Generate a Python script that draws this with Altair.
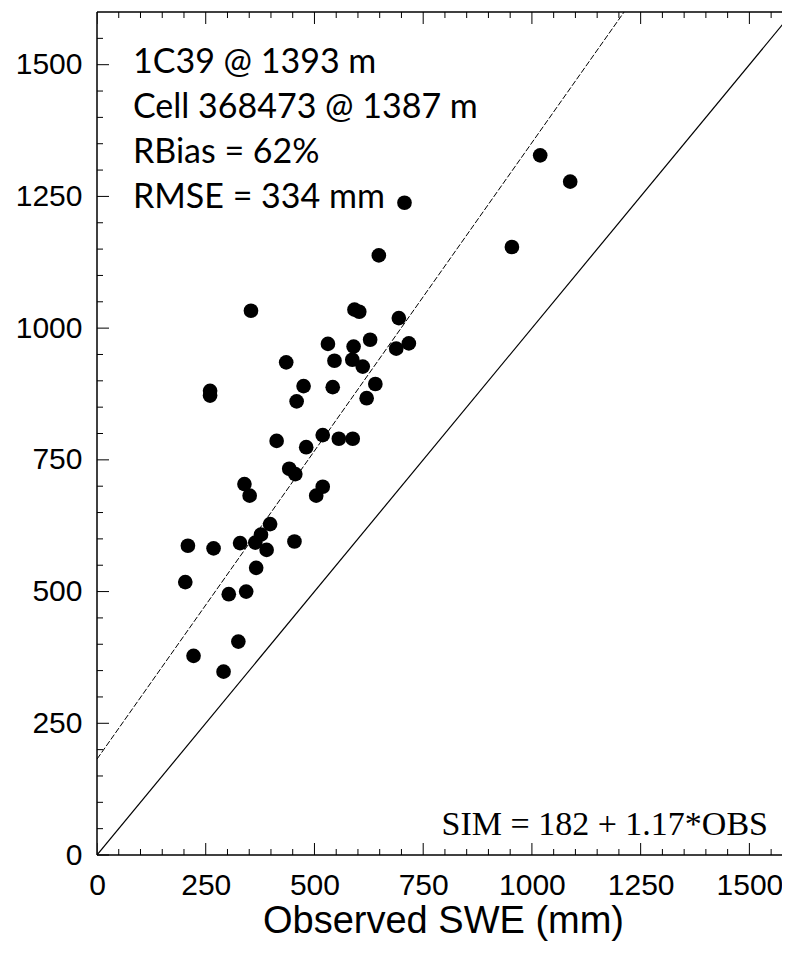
import altair as alt
import pandas as pd

# Observed vs simulated SWE (mm)
obs = [354, 592, 603, 694, 531, 628, 590, 717, 688, 435, 546, 587, 611, 260, 260,
       475, 542, 640, 459, 620, 413, 481, 519, 556, 588, 442, 456, 339, 351, 519,
       504, 398, 377, 329, 364, 390, 209, 268, 454, 366, 203, 303, 343, 325, 222,
       291, 1019, 1088, 954, 707, 648]
sim = [1033, 1035, 1031, 1019, 970, 978, 965, 971, 961, 935, 938, 940, 927, 881, 872,
       890, 888, 894, 861, 867, 786, 774, 797, 790, 790, 733, 723, 704, 682, 699,
       682, 628, 608, 592, 593, 579, 587, 582, 595, 545, 518, 495, 500, 405, 378,
       348, 1328, 1278, 1154, 1238, 1138]

# reference lines
one_to_one_x = [0, 1600]
one_to_one_y = [0, 1600]
intercept = 182
slope = 1.17
fit_x = [0, (1600 - intercept) / slope]

major_ticks = [0, 250, 500, 750, 1000, 1250, 1500]
minor_ticks = [v for v in range(50, 1600, 50) if v % 250 != 0]

info_lines = ["1C39 @ 1393 m", "Cell 368473 @ 1387 m", "RBias = 62%", "RMSE = 334 mm"]
eq_text = "SIM = 182 + 1.17*OBS"
x_title = "Observed SWE (mm)"

# visible part of the plot; the frame's right edge (x = 1600) lies outside the picture
W, H = 685, 843
XDOM = [0, 1575]
YDOM = [0, 1600]

pts = pd.DataFrame({"obs": obs, "sim": sim})
ref1 = pd.DataFrame({"obs": one_to_one_x, "sim": one_to_one_y})
fit = pd.DataFrame({"obs": fit_x, "sim": [intercept + slope * v for v in fit_x]})
maj = pd.DataFrame({"v": major_ticks})
mnr = pd.DataFrame({"v": minor_ticks})

xs = alt.Scale(domain=XDOM, nice=False, zero=False)
ys = alt.Scale(domain=YDOM, nice=False, zero=False)

points = alt.Chart(pts).mark_circle(size=215, color="black", opacity=1).encode(
    x=alt.X("obs:Q", scale=xs, title=x_title,
            axis=alt.Axis(values=major_ticks, format="d", labelPadding=15, labelFlush=False,
                          titleBaseline="alphabetic", titleY=77, titleX=346)),
    y=alt.Y("sim:Q", scale=ys, title=None,
            axis=alt.Axis(values=major_ticks, format="d", labelPadding=15, labelFlush=False)),
)

line1 = alt.Chart(ref1).mark_line(color="black", strokeWidth=1.2, clip=True).encode(
    x=alt.X("obs:Q", scale=xs), y=alt.Y("sim:Q", scale=ys))
line2 = alt.Chart(fit).mark_line(color="black", strokeWidth=1, strokeDash=[6, 2], clip=True).encode(
    x=alt.X("obs:Q", scale=xs), y=alt.Y("sim:Q", scale=ys))

# frame: left, top, bottom (the right side falls outside the picture)
frame_left = alt.Chart(pd.DataFrame({"k": [0]})).mark_rule(color="black", strokeWidth=1.5).encode(
    x=alt.value(0), y=alt.value(0), y2=alt.value(H))
frame_top = alt.Chart(pd.DataFrame({"k": [0]})).mark_rule(color="black", strokeWidth=1.5).encode(
    x=alt.value(0), x2=alt.value(W), y=alt.value(0))
frame_bottom = alt.Chart(pd.DataFrame({"k": [0]})).mark_rule(color="black", strokeWidth=1.5).encode(
    x=alt.value(0), x2=alt.value(W), y=alt.value(H))


def xticks(df, length):
    bottom = alt.Chart(df).mark_rule(color="black", strokeWidth=1, clip=True).encode(
        x=alt.X("v:Q", scale=xs), y=alt.value(H), y2=alt.value(H - length))
    top = alt.Chart(df).mark_rule(color="black", strokeWidth=1, clip=True).encode(
        x=alt.X("v:Q", scale=xs), y=alt.value(0), y2=alt.value(length))
    return [bottom, top]


def yticks(df, length):
    left = alt.Chart(df).mark_rule(color="black", strokeWidth=1).encode(
        y=alt.Y("v:Q", scale=ys), x=alt.value(0), x2=alt.value(length))
    return [left]


tick_layers = xticks(maj, 12) + xticks(mnr, 6) + yticks(maj, 12) + yticks(mnr, 6)

info = alt.Chart(pd.DataFrame({"k": [0]})).mark_text(
    text=info_lines, align="left", baseline="alphabetic", font="Lato", fontSize=34,
    lineHeight=45, color="black").encode(x=alt.value(36), y=alt.value(61))

eq = alt.Chart(pd.DataFrame({"k": [0]})).mark_text(
    text=eq_text, align="right", baseline="alphabetic", font="Liberation Serif", fontSize=34,
    color="black").encode(x=alt.value(671), y=alt.value(823))

chart = alt.layer(points, line1, line2, frame_left, frame_top, frame_bottom,
                  *tick_layers, info, eq).properties(
    width=W, height=H,
    padding={"left": 89, "top": 4, "right": 0, "bottom": 87},
    autosize=alt.AutoSizeParams(type="none"),
    background="white",
).configure_axis(
    ticks=False, domain=False, grid=False,
    labelFont="Liberation Sans", labelFontSize=30, labelColor="black",
    titleFont="Liberation Sans", titleFontSize=38, titleFontWeight="normal", titleColor="black",
).configure_view(strokeWidth=0, stroke="transparent")

chart.save("out.html", embed_options={"renderer": "svg", "actions": False})
